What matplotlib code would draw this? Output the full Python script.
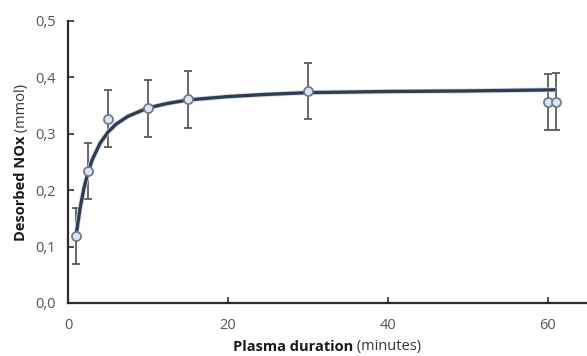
import numpy as np
import matplotlib
matplotlib.use('Agg')
import matplotlib.pyplot as plt
from matplotlib.ticker import FuncFormatter

# measured points (plasma duration in minutes, desorbed NOx in mmol)
duration = [1, 2.5, 5, 10, 15, 30, 60, 61]
nox = [0.119, 0.234, 0.327, 0.345, 0.361, 0.376, 0.356, 0.357]
nox_err = [0.05, 0.05, 0.05, 0.05, 0.05, 0.05, 0.05, 0.05]

# fitted curve
fit_x = [1, 1.5, 2, 2.5, 3, 4, 5, 6, 7.5, 10, 12.5, 15, 20, 25, 30, 40, 50, 61]
fit_y = [0.119, 0.167, 0.204, 0.231, 0.253, 0.283, 0.303, 0.317, 0.331, 0.346,
         0.354, 0.360, 0.366, 0.370, 0.373, 0.375, 0.376, 0.378]

x_ticks = [0, 20, 40, 60]
y_ticks = [0.0, 0.1, 0.2, 0.3, 0.4, 0.5]

plt.rcParams['font.family'] = ['Open Sans', 'DejaVu Sans']

fig = plt.figure(figsize=(5.87, 3.56), dpi=100)
ax = fig.add_axes([68/587, 53/356, 519/587, 282/356])

ax.errorbar(duration, nox, yerr=nox_err, fmt='none', ecolor='#5a5a5a',
            elinewidth=1.3, capsize=3, capthick=1.3, zorder=2)
# curve with light halo
ax.plot(fit_x, fit_y, color='#d3dce8', lw=3.6, solid_capstyle='butt', zorder=3)
ax.plot(fit_x, fit_y, color='#2f3d52', lw=2.4, solid_capstyle='butt', zorder=4)
ax.plot(duration, nox, 'o', ms=6.5, mfc='#dce6f2', mec='#6d7d92', mew=1.3, zorder=5)

ax.set_xlim(0, 64.9)
ax.set_ylim(0, 0.5)
ax.set_xticks(x_ticks)
ax.set_yticks(y_ticks)
ax.yaxis.set_major_formatter(FuncFormatter(lambda v, p: '{:.1f}'.format(v).replace('.', ',')))

for s in ['top', 'right']:
    ax.spines[s].set_visible(False)
for s in ['left', 'bottom']:
    ax.spines[s].set_color('#2b2b2b')
    ax.spines[s].set_linewidth(1.6)
ax.spines['left'].set_bounds(0, 0.5)

ax.tick_params(direction='in', length=4, width=1.2, color='#2b2b2b',
               labelsize=10.5, labelcolor='#555555')
ax.tick_params(axis='y', pad=9)
ax.tick_params(axis='x', pad=11)

# axis labels, bold part + regular part
xl = fig.text(233/587, 1 - 351/356, 'Plasma duration', fontsize=10.5, fontweight='bold',
              color='#1a1a1a', ha='left', va='baseline')
ax.annotate(' (minutes)', xy=(1, 0), xycoords=xl, fontsize=10.5, color='#333333',
            ha='left', va='bottom')
yl = fig.text(14/587, 1 - 241/356, 'Desorbed NOx', fontsize=10.5, fontweight='bold',
              color='#1a1a1a', rotation=90, ha='left', va='bottom')
ax.annotate(' (mmol)', xy=(0, 1), xycoords=yl, fontsize=10.5, color='#333333',
            rotation=90, ha='left', va='bottom')

fig.savefig('out.png', dpi=100)
